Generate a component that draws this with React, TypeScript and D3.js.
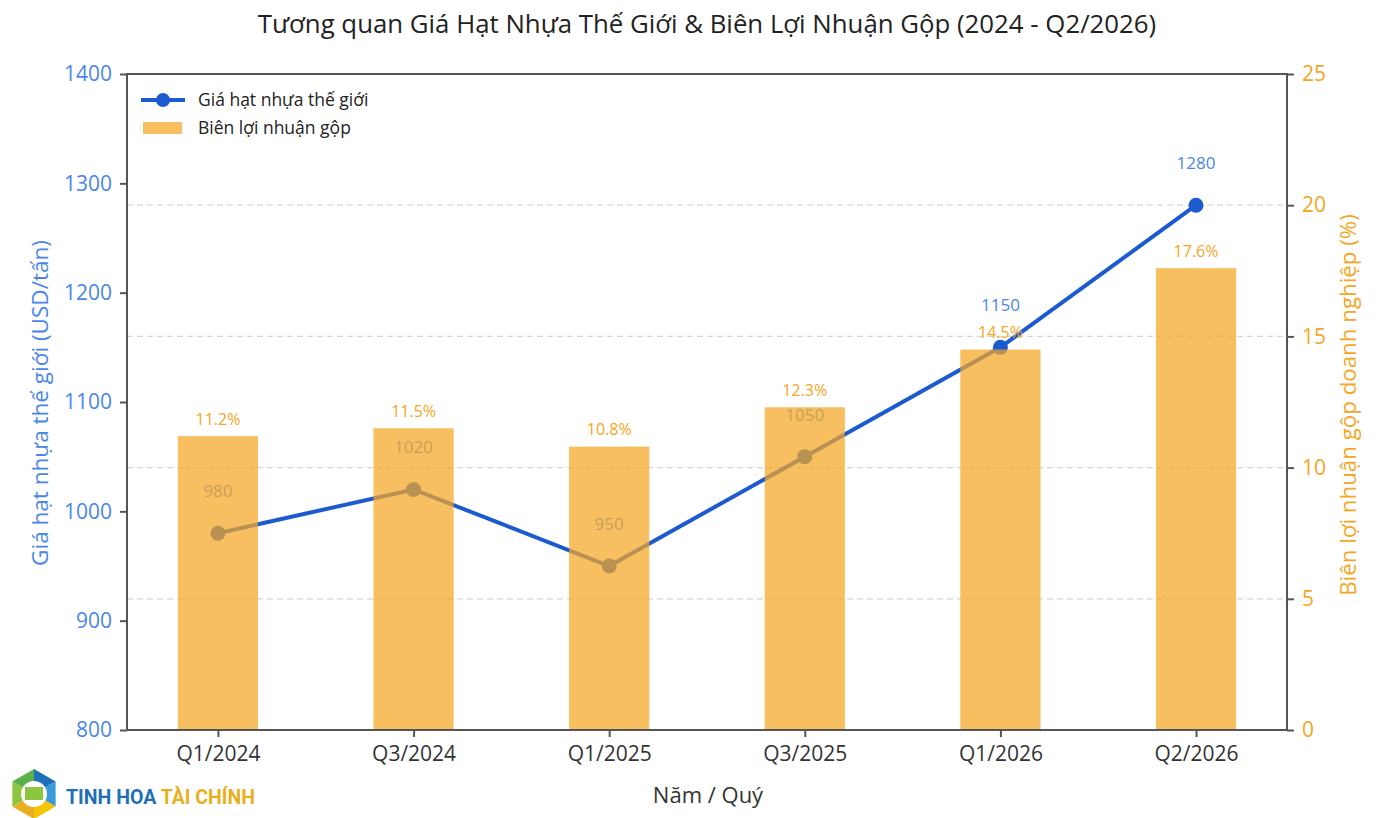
import React, { useEffect, useRef } from "react";
import * as d3 from "d3";

const quarters = ["Q1/2024", "Q3/2024", "Q1/2025", "Q3/2025", "Q1/2026", "Q2/2026"];
const resinPrice = [980, 1020, 950, 1050, 1150, 1280];
const grossMargin = [11.2, 11.5, 10.8, 12.3, 14.5, 17.6];
const leftTicks = [800, 900, 1000, 1100, 1200, 1300, 1400];
const rightTicks = [0, 5, 10, 15, 20, 25];

const W = 1386;
const H = 818;
const FONT = "'Open Sans', 'Noto Sans', sans-serif";
const BLUE = "#1c5ad0";
const BLUE_TXT = "#4a86e8";
const ORANGE = "#f5a623";

const App: React.FC = () => {
    const svgRef = useRef<SVGSVGElement | null>(null);

    useEffect(() => {
        const svg = d3.select(svgRef.current);
        svg.selectAll("*").remove();

        const m = { left: 127, right: 1287, top: 74, bottom: 730 };

        const x = d3.scalePoint<string>().domain(quarters).range([m.left, m.right]).padding(0.465);
        const step = x.step();
        const barW = step * 0.41;
        const yL = d3.scaleLinear().domain([800, 1400]).range([m.bottom, m.top]);
        const yR = d3.scaleLinear().domain([0, 25]).range([m.bottom, m.top]);

        // lưới (theo trục phải)
        svg.append("g")
            .selectAll("line")
            .data(rightTicks.filter(t => t > 0 && t < 25))
            .enter()
            .append("line")
            .attr("x1", m.left).attr("x2", m.right)
            .attr("y1", d => yR(d)).attr("y2", d => yR(d))
            .attr("stroke", "#d5d5d5")
            .attr("stroke-width", 1.2)
            .attr("stroke-dasharray", "6,4");

        // đường giá
        const line = d3.line<number>()
            .x((d, i) => x(quarters[i])!)
            .y(d => yL(d));
        svg.append("path")
            .datum(resinPrice)
            .attr("d", line)
            .attr("fill", "none")
            .attr("stroke", BLUE)
            .attr("stroke-width", 4);
        svg.append("g")
            .selectAll("circle")
            .data(resinPrice)
            .enter()
            .append("circle")
            .attr("cx", (d, i) => x(quarters[i])!)
            .attr("cy", d => yL(d))
            .attr("r", 7.5)
            .attr("fill", BLUE);
        svg.append("g")
            .selectAll("text")
            .data(resinPrice)
            .enter()
            .append("text")
            .attr("x", (d, i) => x(quarters[i])!)
            .attr("y", d => yL(d) - 42)
            .attr("dy", "0.35em")
            .attr("text-anchor", "middle")
            .attr("font-size", 17)
            .attr("fill", BLUE_TXT)
            .text(d => `${d}`);

        // cột biên lợi nhuận
        svg.append("g")
            .selectAll("rect")
            .data(grossMargin)
            .enter()
            .append("rect")
            .attr("x", (d, i) => x(quarters[i])! - barW / 2)
            .attr("y", d => yR(d))
            .attr("width", barW)
            .attr("height", d => m.bottom - yR(d))
            .attr("fill", ORANGE)
            .attr("fill-opacity", 0.72);
        svg.append("g")
            .selectAll("text")
            .data(grossMargin)
            .enter()
            .append("text")
            .attr("x", (d, i) => x(quarters[i])!)
            .attr("y", d => yR(d) - 17)
            .attr("dy", "0.35em")
            .attr("text-anchor", "middle")
            .attr("font-size", 16)
            .attr("fill", ORANGE)
            .text(d => `${d.toFixed(1)}%`);

        // khung
        svg.append("rect")
            .attr("x", m.left).attr("y", m.top)
            .attr("width", m.right - m.left).attr("height", m.bottom - m.top)
            .attr("fill", "none")
            .attr("stroke", "#555")
            .attr("stroke-width", 2);

        // trục
        const axL = svg.append("g")
            .attr("transform", `translate(${m.left},0)`)
            .call(d3.axisLeft(yL).tickValues(leftTicks).tickFormat(d3.format("d")).tickSize(7).tickPadding(8));
        axL.selectAll("text").attr("fill", BLUE_TXT).attr("font-size", 21);

        const axR = svg.append("g")
            .attr("transform", `translate(${m.right},0)`)
            .call(d3.axisRight(yR).tickValues(rightTicks).tickSize(7).tickPadding(8));
        axR.selectAll("text").attr("fill", ORANGE).attr("font-size", 21);

        const axB = svg.append("g")
            .attr("transform", `translate(0,${m.bottom})`)
            .call(d3.axisBottom(x).tickSize(7).tickPadding(9));
        axB.selectAll("text").attr("fill", "#333").attr("font-size", 21);

        [axL, axR, axB].forEach(a => {
            a.select(".domain").remove();
            a.selectAll("line").attr("stroke", "#555").attr("stroke-width", 2);
            a.selectAll("text").attr("font-family", FONT);
        });

        // tiêu đề, nhãn trục
        svg.append("text")
            .attr("x", 707).attr("y", 24).attr("dy", "0.35em")
            .attr("text-anchor", "middle")
            .attr("font-size", 25.8).attr("fill", "#222")
            .text("Tương quan Giá Hạt Nhựa Thế Giới & Biên Lợi Nhuận Gộp (2024 - Q2/2026)");
        svg.append("text")
            .attr("x", 708).attr("y", 795).attr("dy", "0.35em")
            .attr("text-anchor", "middle")
            .attr("font-size", 22).attr("fill", "#333")
            .text("Năm / Quý");
        svg.append("text")
            .attr("transform", `translate(40,${403}) rotate(-90)`)
            .attr("dy", "0.35em")
            .attr("text-anchor", "middle")
            .attr("font-size", 22.5).attr("fill", BLUE_TXT)
            .text("Giá hạt nhựa thế giới (USD/tấn)");
        svg.append("text")
            .attr("transform", `translate(1348,${405}) rotate(-90)`)
            .attr("dy", "0.35em")
            .attr("text-anchor", "middle")
            .attr("font-size", 22.3).attr("fill", ORANGE)
            .text("Biên lợi nhuận gộp doanh nghiệp (%)");

        // chú thích
        const lg = svg.append("g");
        lg.append("line")
            .attr("x1", 141).attr("x2", 185).attr("y1", 100).attr("y2", 100)
            .attr("stroke", BLUE).attr("stroke-width", 4);
        lg.append("circle").attr("cx", 163).attr("cy", 100).attr("r", 7).attr("fill", BLUE);
        lg.append("text").attr("x", 198).attr("y", 100).attr("dy", "0.35em")
            .attr("font-size", 17.5).attr("fill", "#222").text("Giá hạt nhựa thế giới");
        lg.append("rect").attr("x", 143).attr("y", 122).attr("width", 39).attr("height", 12)
            .attr("fill", ORANGE).attr("fill-opacity", 0.72);
        lg.append("text").attr("x", 198).attr("y", 128).attr("dy", "0.35em")
            .attr("font-size", 17.5).attr("fill", "#222").text("Biên lợi nhuận gộp");
        lg.selectAll("text").attr("font-family", FONT);

        // logo
        const logo = svg.append("g").attr("transform", "translate(34,794)");
        const hex = d3.range(6).map(k => {
            const a = (Math.PI / 3) * k - Math.PI / 2;
            return [Math.cos(a) * 25, Math.sin(a) * 25] as [number, number];
        });
        const hexCols = ["#1f6fb8", "#3a9ad9", "#f2c500", "#e8b020", "#8cc63f", "#5bb04a"];
        hex.forEach((p, k) => {
            const q = hex[(k + 1) % 6];
            logo.append("path")
                .attr("d", `M0,0L${p[0]},${p[1]}L${q[0]},${q[1]}Z`)
                .attr("fill", hexCols[k]);
        });
        logo.append("circle").attr("r", 13).attr("fill", "#fff");
        logo.append("rect").attr("x", -9).attr("y", -7).attr("width", 18).attr("height", 13)
            .attr("fill", "#8cc63f");
        const lt = svg.append("text").attr("x", 66).attr("y", 797).attr("dy", "0.35em")
            .attr("font-family", "Roboto, sans-serif").attr("font-weight", 700).attr("font-size", 19.5);
        lt.append("tspan").attr("fill", "#1f6fb8").text("TINH HOA ");
        lt.append("tspan").attr("fill", "#e8b020").text("TÀI CHÍNH");
    }, []);

    return (
        <svg ref={svgRef} width={W} height={H}
            style={{ position: "absolute", left: 0, top: 0, fontFamily: FONT, background: "#fff" }} />
    );
};

export default App;
